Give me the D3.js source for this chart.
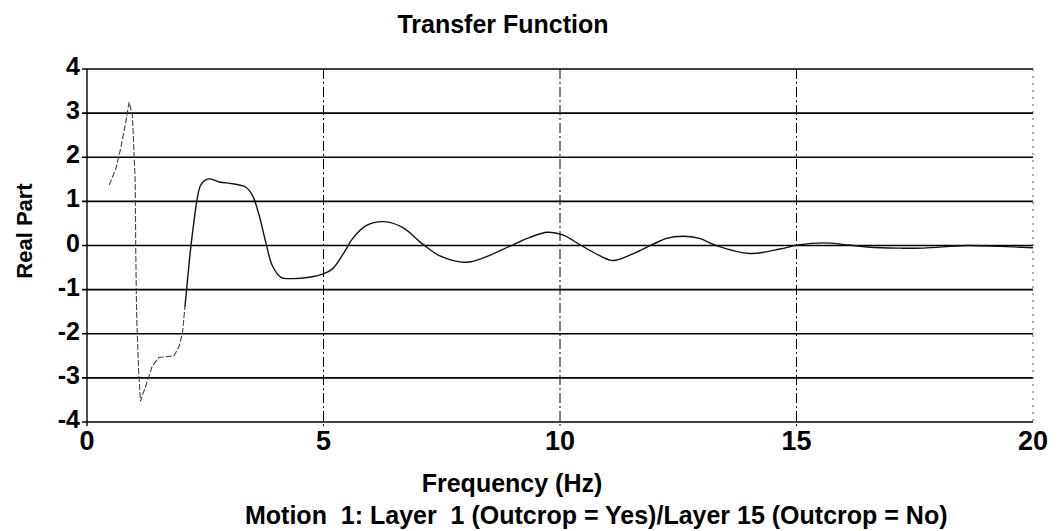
<!DOCTYPE html>
<html>
<head>
<meta charset="utf-8">
<script src="https://cdn.jsdelivr.net/npm/d3@7/dist/d3.min.js"></script>
<style>
  html, body { margin: 0; padding: 0; background: #fff; }
  svg { display: block; }
  text { font-family: "Liberation Sans", Arial, sans-serif; fill: #000; font-weight: bold; }
</style>
</head>
<body>
<script>
// ---- data ----
const freq = [0.47, 0.61, 0.71, 0.82, 0.89, 0.96, 1.02, 1.03, 1.05, 1.09, 1.13, 1.24, 1.38, 1.52, 1.84, 1.95, 2.02,
  2.07, 2.12, 2.19, 2.26, 2.33, 2.4, 2.5, 2.6, 2.8, 3.08, 3.36, 3.5, 3.64, 3.78, 3.92, 4.1, 4.35, 4.7, 4.98, 5.19,
  5.44, 5.61, 5.9, 6.28, 6.67, 7.1, 7.45, 8.01, 8.5, 8.93, 9.35, 9.74, 10.06, 10.45, 10.84, 11.12, 11.54, 11.97,
  12.25, 12.6, 12.95, 13.3, 14.01, 14.65, 15.03, 15.56, 16.12, 16.55, 17.19, 17.68, 18.6, 19.3, 20.0];
const realPart = [1.37, 1.74, 2.19, 2.8, 3.25, 2.95, 1.44, -0.08, -1.6, -2.8, -3.53, -3.19, -2.73, -2.54, -2.5, -2.28, -1.97,
  -1.4, -0.84, -0.08, 0.53, 1.06, 1.36, 1.48, 1.51, 1.44, 1.4, 1.32, 1.13, 0.68, 0.07, -0.46, -0.72, -0.75, -0.72, -0.65, -0.53,
  -0.15, 0.15, 0.45, 0.54, 0.41, 0.03, -0.23, -0.38, -0.23, -0.02, 0.18, 0.3, 0.24, 0.0, -0.23, -0.34, -0.19, 0.03,
  0.16, 0.21, 0.16, 0.0, -0.18, -0.08, 0.01, 0.06, 0.01, -0.04, -0.06, -0.06, 0.0, -0.02, -0.05];
const xTicks = [0, 5, 10, 15, 20];
const yTicks = [-4, -3, -2, -1, 0, 1, 2, 3, 4];
const titleText = "Transfer Function";
const xTitle = "Frequency (Hz)";
const yTitle = "Real Part";
const subTitle = "Motion\u00a0\u00a01: Layer\u00a0\u00a01 (Outcrop = Yes)/Layer 15 (Outcrop = No)";

const W = 1059, H = 531;
const svg = d3.select("body").append("svg").attr("width", W).attr("height", H);

const x = d3.scaleLinear().domain([0, 20]).range([87, 1033]);
const y = d3.scaleLinear().domain([-4, 4]).range([422, 69]);

// horizontal grid lines (solid)
svg.append("g").selectAll("line").data(yTicks).join("line")
  .attr("x1", x(0) - 5).attr("x2", x(20))
  .attr("y1", d => y(d)).attr("y2", d => y(d))
  .attr("stroke", "#000").attr("stroke-width", 1.6);

// vertical grid lines (dash-dot)
svg.append("g").selectAll("line").data([5, 10, 15]).join("line")
  .attr("x1", d => x(d)).attr("x2", d => x(d))
  .attr("y1", y(4)).attr("y2", y(-4) + 4)
  .attr("stroke", "#000").attr("stroke-width", 1)
  .attr("stroke-dasharray", "10,3,2,3");

// left axis (solid) and right edge (dotted)
svg.append("line").attr("x1", x(0)).attr("x2", x(0)).attr("y1", y(4)).attr("y2", y(-4) + 4)
  .attr("stroke", "#000").attr("stroke-width", 1.4);
svg.append("line").attr("x1", x(20)).attr("x2", x(20)).attr("y1", y(4)).attr("y2", y(-4))
  .attr("stroke", "#555").attr("stroke-width", 1).attr("stroke-dasharray", "2,5");

// curve
const pts = freq.map((f, i) => [f, realPart[i]]);
svg.append("path").datum(pts.slice(0, 18))
  .attr("d", d3.line().x(d => x(d[0])).y(d => y(d[1])).curve(d3.curveLinear))
  .attr("fill", "none").attr("stroke", "#444").attr("stroke-width", 1.1).attr("stroke-dasharray", "6,2");
svg.append("path").datum(pts.slice(17))
  .attr("d", d3.line().x(d => x(d[0])).y(d => y(d[1])).curve(d3.curveCatmullRom.alpha(0.5)))
  .attr("fill", "none").attr("stroke", "#111").attr("stroke-width", 1.4);

// y tick labels
svg.append("g").selectAll("text").data(yTicks).join("text")
  .attr("x", x(0) - 7).attr("y", d => y(d) + 6)
  .attr("text-anchor", "end").attr("font-size", 25)
  .text(d => d);

// x tick labels
svg.append("g").selectAll("text").data(xTicks).join("text")
  .attr("x", d => x(d)).attr("y", y(-4) + 28)
  .attr("text-anchor", "middle").attr("font-size", 27)
  .text(d => d);

// titles
svg.append("text").attr("x", 503).attr("y", 33).attr("text-anchor", "middle")
  .attr("font-size", 25).text(titleText);
svg.append("text").attr("x", 512).attr("y", 492).attr("text-anchor", "middle")
  .attr("font-size", 25).text(xTitle);
svg.append("text").attr("x", 245).attr("y", 524).attr("text-anchor", "start")
  .attr("font-size", 25).text(subTitle);
svg.append("text").attr("transform", "translate(32,231) rotate(-90)").attr("text-anchor", "middle")
  .attr("font-size", 22).text(yTitle);
</script>
</body>
</html>
